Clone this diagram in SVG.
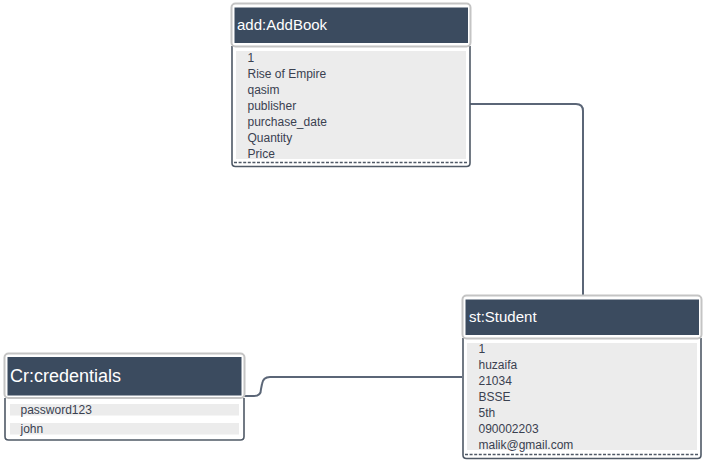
<svg xmlns="http://www.w3.org/2000/svg" width="707" height="463" viewBox="0 0 707 463">
<style>
.hdr{fill:#fff;stroke:#c4c4c4;stroke-width:2}
.hfill{fill:#3b4b5f}
.body{fill:#fff;stroke:#4f5966;stroke-width:1.6}
.gray{fill:#ececec}
.dash{stroke:#4f5966;stroke-width:1.6;stroke-dasharray:3 1.6;fill:none}
.ht{font-family:"Liberation Sans",Arial,sans-serif;fill:#fff;font-size:15px}
.t{font-family:"Liberation Sans",Arial,sans-serif;fill:#3a4150;font-size:12px}
.conn{fill:none;stroke:#5b6677;stroke-width:2}
</style>
<rect width="707" height="463" fill="#fff"/>
<g id="connectors">
<path class="conn" d="M469,104 L576,104 Q583,104 583,111 L583,296"/>
<path class="conn" d="M244,396 L254,396 Q261,396 261,389 L262,384 Q263,377 270,377 L462,377"/>
</g>
<g id="addbook">
<path class="body" d="M232,46 L232,163 Q232,166.5 235.5,166.5 L466.5,166.5 Q470,166.5 470,163 L470,46"/>
<rect class="gray" x="236" y="51" width="230" height="108"/>
<line class="dash" x1="234" y1="162.5" x2="468" y2="162.5"/>
<rect class="hdr" x="231.5" y="3.5" width="239" height="43" rx="4"/>
<rect class="hfill" x="234.5" y="7.5" width="233.5" height="35.5"/>
<text class="ht" x="237" y="30">add:AddBook</text>
<text class="t" x="247.5" y="61.5">1</text>
<text class="t" x="247.5" y="77.5">Rise of Empire</text>
<text class="t" x="247.5" y="93.5">qasim</text>
<text class="t" x="247.5" y="109.5">publisher</text>
<text class="t" x="247.5" y="125.5">purchase_date</text>
<text class="t" x="247.5" y="141.5">Quantity</text>
<text class="t" x="247.5" y="157.5">Price</text>
</g>
<g id="student">
<path class="body" d="M463,338 L463,455 Q463,458.5 466.5,458.5 L697.5,458.5 Q701,458.5 701,455 L701,338"/>
<rect class="gray" x="467" y="343" width="230" height="107"/>
<line class="dash" x1="465" y1="454.5" x2="699" y2="454.5"/>
<rect class="hdr" x="462.5" y="295.5" width="239" height="43" rx="4"/>
<rect class="hfill" x="465.5" y="299.5" width="233.5" height="35.5"/>
<text class="ht" x="469" y="322">st:Student</text>
<text class="t" x="478.5" y="353">1</text>
<text class="t" x="478.5" y="369">huzaifa</text>
<text class="t" x="478.5" y="385">21034</text>
<text class="t" x="478.5" y="401">BSSE</text>
<text class="t" x="478.5" y="417">5th</text>
<text class="t" x="478.5" y="433">090002203</text>
<text class="t" x="478.5" y="449">malik@gmail.com</text>
</g>
<g id="credentials">
<path class="body" d="M5,398 L5,436.5 Q5,440 8.5,440 L240.5,440 Q244,440 244,436.5 L244,398"/>
<rect class="gray" x="10" y="404" width="229" height="11.5"/>
<rect class="gray" x="10" y="423" width="229" height="11.5"/>
<rect class="hdr" x="4.5" y="353.5" width="240" height="44.5" rx="4"/>
<rect class="hfill" x="7.5" y="357" width="234" height="38.5"/>
<text class="ht" x="10" y="382" style="font-size:18px">Cr:credentials</text>
<text class="t" x="20.5" y="414">password123</text>
<text class="t" x="20.5" y="433">john</text>
</g>
</svg>
